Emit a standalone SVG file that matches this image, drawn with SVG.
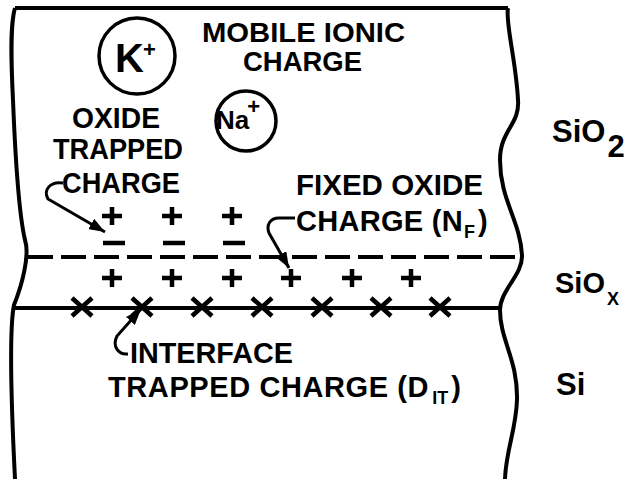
<svg xmlns="http://www.w3.org/2000/svg" xmlns:xlink="http://www.w3.org/1999/xlink" width="636" height="479" viewBox="0 0 636 479">
<style>
.t{font-family:"Liberation Sans",Arial,sans-serif;font-weight:bold;fill:#000}
.m{font-size:29px}
.ln{fill:none;stroke:#000;stroke-width:4}
.cn{fill:none;stroke:#000;stroke-width:3}
.mk{stroke:#000;stroke-width:4.5;fill:none}
</style>
<defs>
<marker id="ah" markerUnits="userSpaceOnUse" markerWidth="18" markerHeight="12" refX="16" refY="6" orient="auto">
<path d="M0,0 L16,6 L0,12 z" fill="#000"/>
</marker>
<path id="plus" class="mk" d="M-10,0 H10 M0,-9 V9"/>
<path id="minus" class="mk" d="M-11,0 H11"/>
<path id="cross" class="mk" d="M-10,-9 L10,9 M-10,9 L10,-9"/>
</defs>
<rect width="636" height="479" fill="#fff"/>
<g id="frame">
<path class="ln" d="M15,8 H508"/>
<path class="ln" d="M15,8 C10,25 11,60 13,100 C15,150 18,210 25,240 C30,255 22,285 14,305 C9,330 11,400 15,479"/>
<path class="ln" d="M508,8 C505,22 516,60 518,100 C520,125 500,130 500,160 C500,200 520,220 522,255 C523,275 500,290 500,310 C500,340 518,360 517,400 C516,430 506,450 505,479"/>
<path class="ln" d="M28,257 H522" stroke-dasharray="25 8" stroke-width="4.5"/>
<path class="ln" d="M14,308 H500"/>
</g>
<g id="k-ion">
<circle cx="137" cy="56" r="38" fill="none" stroke="#000" stroke-width="3.5"/>
<text class="t" x="115" y="72" style="font-size:40px">K<tspan style="font-size:22px" dy="-15" dx="-1">+</tspan></text>
</g>
<g id="na-ion">
<circle cx="246" cy="121" r="30" fill="none" stroke="#000" stroke-width="3.5"/>
<text class="t" x="216" y="129" style="font-size:26px">Na<tspan style="font-size:22px" dy="-15" dx="-2">+</tspan></text>
</g>
<g id="mobile-label">
<text class="t" style="font-size:28px"><tspan x="202" y="42" textLength="203" lengthAdjust="spacingAndGlyphs">MOBILE IONIC</tspan><tspan x="243" y="71" textLength="119" lengthAdjust="spacingAndGlyphs">CHARGE</tspan></text>
</g>
<g id="oxide-trapped-label">
<text class="t m"><tspan x="72" y="128" textLength="88" lengthAdjust="spacingAndGlyphs">OXIDE</tspan><tspan x="53" y="159" textLength="130" lengthAdjust="spacingAndGlyphs">TRAPPED</tspan><tspan x="62" y="193" textLength="118" lengthAdjust="spacingAndGlyphs">CHARGE</tspan></text>
</g>
<g id="fixed-oxide-label">
<text class="t m"><tspan x="296" y="195" textLength="187" lengthAdjust="spacingAndGlyphs">FIXED OXIDE</tspan><tspan x="296" y="231" letter-spacing="0.3">CHARGE (N</tspan><tspan style="font-size:18px" dy="7" dx="1">F</tspan><tspan dy="-7" dx="3">)</tspan></text>
</g>
<g id="interface-label">
<text class="t m"><tspan x="130" y="363" textLength="163" lengthAdjust="spacingAndGlyphs">INTERFACE</tspan><tspan x="108" y="397" letter-spacing="0.6">TRAPPED CHARGE (D</tspan><tspan style="font-size:18px" dy="7" dx="3">IT</tspan><tspan dy="-7" dx="3">)</tspan></text>
</g>
<g id="oxide-trapped-charges">
<use xlink:href="#plus" x="112" y="216"/>
<use xlink:href="#plus" x="172" y="216"/>
<use xlink:href="#plus" x="232" y="216"/>
<use xlink:href="#minus" x="114" y="243"/>
<use xlink:href="#minus" x="174" y="243"/>
<use xlink:href="#minus" x="234" y="243"/>
</g>
<g id="fixed-charges">
<use xlink:href="#plus" x="112" y="278"/>
<use xlink:href="#plus" x="172" y="278"/>
<use xlink:href="#plus" x="232" y="278"/>
<use xlink:href="#plus" x="291" y="278"/>
<use xlink:href="#plus" x="352" y="278"/>
<use xlink:href="#plus" x="411" y="278"/>
</g>
<g id="interface-traps">
<use xlink:href="#cross" x="82" y="307"/>
<use xlink:href="#cross" x="142" y="307"/>
<use xlink:href="#cross" x="202" y="307"/>
<use xlink:href="#cross" x="262" y="307"/>
<use xlink:href="#cross" x="322" y="307"/>
<use xlink:href="#cross" x="381" y="307"/>
<use xlink:href="#cross" x="440" y="307"/>
</g>
<g id="layer-labels">
<text class="t" x="552" y="142" style="font-size:31px">SiO<tspan dy="15" dx="2">2</tspan></text>
<text class="t" x="555" y="293" style="font-size:29px">SiO<tspan style="font-size:18px" dy="12" dx="2">X</tspan></text>
<text class="t" x="556" y="395" style="font-size:31px">Si</text>
</g>
<g id="connectors">
<path class="cn" d="M63,183 C50,181 43,190 48,199 L105,232" marker-end="url(#ah)"/>
<path class="cn" d="M295,218 L279,218 C270,218 266,225 269,233 L289,268" marker-end="url(#ah)"/>
<path class="cn" d="M128,354 C118,355 112,346 117,336 L141,309" marker-end="url(#ah)"/>
</g>
</svg>
